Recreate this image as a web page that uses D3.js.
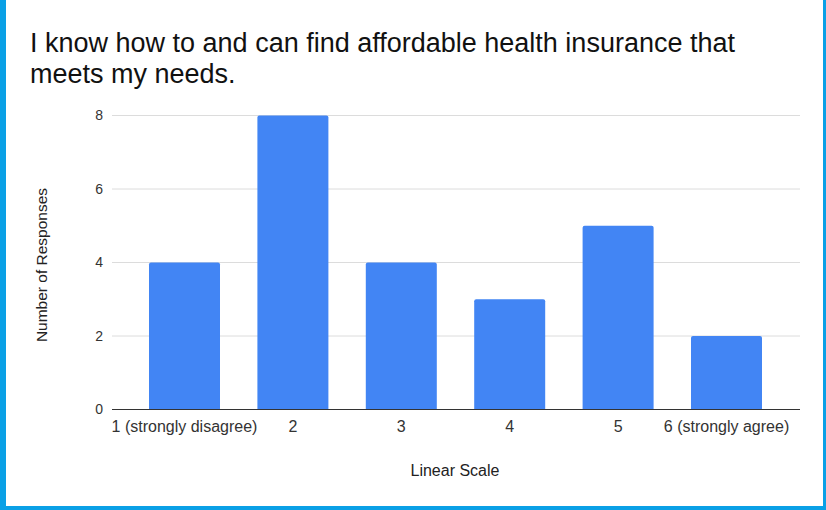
<!DOCTYPE html>
<html>
<head>
<meta charset="utf-8">
<script src="https://cdn.jsdelivr.net/npm/d3@7"></script>
<style>
  html, body { margin: 0; padding: 0; background: #fff; }
  svg { display: block; }
</style>
</head>
<body>
<svg id="chart" width="826" height="510"></svg>
<script>
// Survey responses per point on the agreement scale
const categories = ["1 (strongly disagree)", "2", "3", "4", "5", "6 (strongly agree)"];
const responses = [4, 8, 4, 3, 5, 2];
const yTicks = [0, 2, 4, 6, 8];
const titleLines = ["I know how to and can find affordable health insurance that", "meets my needs."];
const xTitle = "Linear Scale";
const yTitle = "Number of Responses";

const W = 826, H = 510;
const svg = d3.select("#chart");
const font = "'Liberation Sans', Arial, sans-serif";

// frame
svg.append("rect").attr("x", 0).attr("y", 0).attr("width", W).attr("height", H).attr("fill", "#fff");
svg.append("rect").attr("x", 0).attr("y", 0).attr("width", 6).attr("height", H).attr("fill", "#0aa0e6");
svg.append("rect").attr("x", 0).attr("y", 506).attr("width", W).attr("height", 4).attr("fill", "#0aa0e6");
svg.append("rect").attr("x", 823).attr("y", 0).attr("width", 3).attr("height", H).attr("fill", "#0aa0e6");

// title
svg.append("g").selectAll("text").data(titleLines).join("text")
  .attr("x", 30).attr("y", (d, i) => 52 + i * 31)
  .attr("font-family", font).attr("font-size", 27).attr("fill", "#111")
  .text(d => d);

const plotLeft = 112, plotRight = 800;
const y = d3.scaleLinear().domain([0, 8]).range([409.5, 115.5]);
const pad = 0.345;
const x = d3.scaleBand().domain(categories).range([130.3, 780.7])
  .paddingInner(pad).paddingOuter(pad / 2);

// gridlines
svg.append("g").selectAll("line").data(yTicks.filter(t => t > 0)).join("line")
  .attr("x1", plotLeft).attr("x2", plotRight)
  .attr("y1", d => y(d)).attr("y2", d => y(d))
  .attr("stroke", "#dcdcdc").attr("stroke-width", 1);

// y axis labels
const yAxis = d3.axisLeft(y).tickValues(yTicks).tickSize(0).tickPadding(0);
const yg = svg.append("g").attr("transform", `translate(${plotLeft - 9},0)`).call(yAxis);
yg.select(".domain").remove();
yg.selectAll("text").attr("font-family", font).attr("font-size", 14).attr("fill", "#333");

// bars
svg.append("g").selectAll("path").data(responses).join("path")
  .attr("fill", "#4285f4")
  .attr("d", (d, i) => {
    const x0 = x(categories[i]), w = x.bandwidth(), y0 = y(d), y1 = y(0), r = 2;
    return `M${x0},${y1}V${y0 + r}Q${x0},${y0} ${x0 + r},${y0}H${x0 + w - r}Q${x0 + w},${y0} ${x0 + w},${y0 + r}V${y1}Z`;
  });

// baseline
svg.append("line").attr("x1", plotLeft).attr("x2", plotRight)
  .attr("y1", y(0)).attr("y2", y(0)).attr("stroke", "#333").attr("stroke-width", 1.2);

// x axis labels
const xAxis = d3.axisBottom(x).tickSize(0).tickPadding(0);
const xg = svg.append("g").attr("transform", `translate(0,${y(0) + 11})`).call(xAxis);
xg.select(".domain").remove();
xg.selectAll("text").attr("font-family", font).attr("font-size", 16).attr("fill", "#333");

// axis titles
svg.append("text").attr("x", 455).attr("y", 476).attr("text-anchor", "middle")
  .attr("font-family", font).attr("font-size", 16).attr("fill", "#222").text(xTitle);
svg.append("text").attr("transform", "translate(47,265) rotate(-90)").attr("text-anchor", "middle")
  .attr("font-family", font).attr("font-size", 15.5).attr("fill", "#222").text(yTitle);
</script>
</body>
</html>
